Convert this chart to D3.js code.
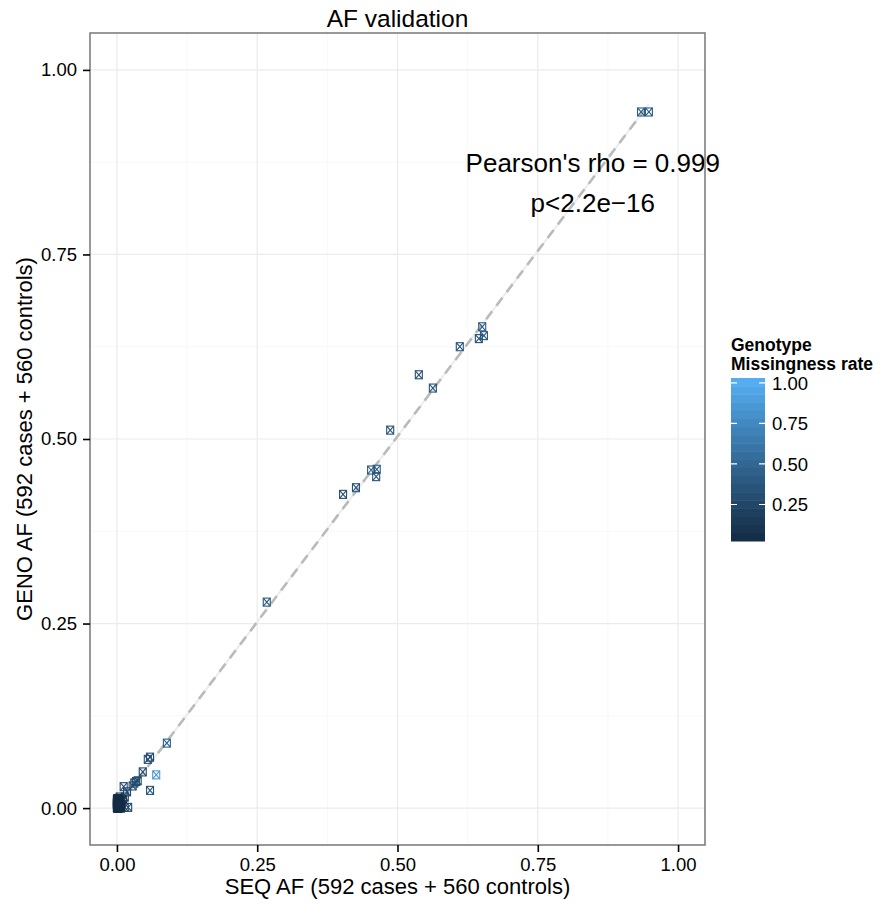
<!DOCTYPE html>
<html lang="en">
<head>
  <meta charset="UTF-8">
  <title>AF validation</title>
  <script src="https://d3js.org/d3.v7.min.js"></script>
  <style>
    body { margin: 0; background: #fff; }
    text { font-family: "Liberation Sans", Arial, sans-serif; fill: #000; }
    .grid-major { stroke: #ebebeb; stroke-width: 1.2; }
    .grid-minor { stroke: #f8f8f8; stroke-width: 1; }
  </style>
</head>
<body>
  <svg id="chart" width="887" height="905"></svg>
  <script>
    // SEQ allele frequency, GENO allele frequency, genotype missingness rate
    const seqAF = [
      0.934, 0.948, 0.611, 0.651, 0.645, 0.654, 0.538, 0.563, 0.487, 0.403,
      0.426, 0.453, 0.463, 0.462, 0.267, 0.089, 0.059, 0.055, 0.070, 0.059,
      0.046, 0.037, 0.031, 0.034, 0.028, 0.012, 0.018, 0.014, 0.020, 0.014,
      0.005, 0.011, 0.008, 0.004, 0.006, 0.002, 0.000, 0.001, 0.003, 0.005,
      0.007, 0.002, 0.000, 0.004, 0.001, 0.003, 0.006, 0.000, 0.002, 0.008,
      0.000, 0.001, 0.002, 0.003, 0.004, 0.005, 0.006, 0.007, 0.001, 0.002,
      0.003, 0.004, 0.005, 0.000, 0.001, 0.002, 0.003, 0.006, 0.000, 0.004,
      0.001, 0.002, 0.003, 0.005, 0.000, 0.001, 0.002, 0.004, 0.000, 0.003
    ];
    const genoAF = [
      0.943, 0.943, 0.625, 0.652, 0.636, 0.640, 0.587, 0.569, 0.512, 0.425,
      0.434, 0.458, 0.459, 0.449, 0.279, 0.088, 0.069, 0.066, 0.045, 0.024,
      0.049, 0.037, 0.034, 0.036, 0.030, 0.029, 0.022, 0.015, 0.001, 0.001,
      0.015, 0.012, 0.009, 0.006, 0.011, 0.004, 0.000, 0.002, 0.005, 0.008,
      0.003, 0.000, 0.006, 0.001, 0.009, 0.002, 0.007, 0.004, 0.010, 0.005,
      0.001, 0.000, 0.002, 0.001, 0.003, 0.002, 0.001, 0.000, 0.004, 0.006,
      0.004, 0.005, 0.006, 0.008, 0.007, 0.009, 0.008, 0.003, 0.012, 0.010,
      0.010, 0.012, 0.011, 0.004, 0.006, 0.013, 0.007, 0.002, 0.010, 0.000
    ];
    const missRate = [
      0.42, 0.40, 0.35, 0.40, 0.35, 0.38, 0.33, 0.36, 0.35, 0.32,
      0.35, 0.38, 0.42, 0.36, 0.38, 0.45, 0.30, 0.35, 0.85, 0.35,
      0.25, 0.30, 0.28, 0.32, 0.30, 0.30, 0.28, 0.22, 0.30, 0.28,
      0.15, 0.12, 0.10, 0.08, 0.10, 0.06, 0.05, 0.07, 0.09, 0.06,
      0.08, 0.05, 0.10, 0.06, 0.07, 0.05, 0.09, 0.06, 0.08, 0.07,
      0.04, 0.05, 0.04, 0.06, 0.05, 0.04, 0.05, 0.06, 0.04, 0.05,
      0.04, 0.06, 0.05, 0.04, 0.05, 0.04, 0.06, 0.05, 0.04, 0.05,
      0.04, 0.05, 0.06, 0.04, 0.05, 0.04, 0.05, 0.06, 0.04, 0.05
    ];

    const xTicks = [0, 0.25, 0.5, 0.75, 1];
    const yTicks = [0, 0.25, 0.5, 0.75, 1];
    const legendTicks = [0.25, 0.5, 0.75, 1];
    const colourLimits = [0.025, 1.03];

    // fitted line (SEQ -> GENO)
    const fitIntercept = 0.001;
    const fitSlope = 1.005;
    const fitRange = [0, 0.948];

    const annoLines = ["Pearson's rho = 0.999", "p<2.2e\u221216"];

    const svg = d3.select("#chart");
    const panel = { left: 90, right: 705, top: 33, bottom: 845 };

    const x = d3.scaleLinear().domain([-0.048, 1.048]).range([panel.left, panel.right]);
    const y = d3.scaleLinear().domain([-0.050, 1.050]).range([panel.bottom, panel.top]);
    const colour = d3.scaleLinear().domain(colourLimits)
      .range(["#132B43", "#56B1F7"]).interpolate(d3.interpolateLab);

    // grid
    const minorX = xTicks.slice(0, -1).map(d => d + 0.125);
    const minorY = yTicks.slice(0, -1).map(d => d + 0.125);
    const grid = svg.append("g");
    grid.selectAll(".mx").data(minorX).join("line").attr("class", "grid-minor")
      .attr("x1", d => x(d)).attr("x2", d => x(d)).attr("y1", panel.top).attr("y2", panel.bottom);
    grid.selectAll(".my").data(minorY).join("line").attr("class", "grid-minor")
      .attr("y1", d => y(d)).attr("y2", d => y(d)).attr("x1", panel.left).attr("x2", panel.right);
    grid.selectAll(".gx").data(xTicks).join("line").attr("class", "grid-major")
      .attr("x1", d => x(d)).attr("x2", d => x(d)).attr("y1", panel.top).attr("y2", panel.bottom);
    grid.selectAll(".gy").data(yTicks).join("line").attr("class", "grid-major")
      .attr("y1", d => y(d)).attr("y2", d => y(d)).attr("x1", panel.left).attr("x2", panel.right);

    // fit lines
    const fit = fitRange.map(v => [v, fitIntercept + fitSlope * v]);
    const line = d3.line().x(d => x(d[0])).y(d => y(d[1]));
    svg.append("path").attr("d", line(fit))
      .attr("fill", "none").attr("stroke", "#ececec").attr("stroke-width", 2);
    svg.append("path").attr("d", line(fit))
      .attr("fill", "none").attr("stroke", "#bababa").attr("stroke-width", 2.6)
      .attr("stroke-dasharray", "10,7");

    // points (boxed cross)
    const pts = seqAF.map((d, i) => ({ sx: d, gy: genoAF[i], m: missRate[i] }))
      .sort((a, b) => b.m - a.m);
    const pg = svg.append("g").selectAll("g").data(pts).join("g")
      .attr("transform", d => `translate(${x(d.sx)},${y(d.gy)})`)
      .attr("stroke", d => colour(d.m)).attr("stroke-width", 1.1).attr("fill", "none");
    const hw = 3.5, hh = 4;
    pg.append("rect").attr("x", -hw).attr("y", -hh).attr("width", 2 * hw).attr("height", 2 * hh);
    pg.append("path").attr("d", `M${-hw},${-hh}L${hw},${hh}M${hw},${-hh}L${-hw},${hh}`);

    // annotation
    svg.append("g").selectAll("text").data(annoLines).join("text")
      .attr("x", x(0.848)).attr("y", (d, i) => y(0.874) + i * 40 + 9)
      .attr("text-anchor", "middle").style("font-size", "26px").text(d => d);

    // panel border
    svg.append("rect").attr("x", panel.left).attr("y", panel.top)
      .attr("width", panel.right - panel.left).attr("height", panel.bottom - panel.top)
      .attr("fill", "none").attr("stroke", "#7f7f7f").attr("stroke-width", 1.6);

    // axes
    const fmt = d3.format(".2f");
    const xAxis = svg.append("g").attr("transform", `translate(0,${panel.bottom})`)
      .call(d3.axisBottom(x).tickValues(xTicks).tickFormat(fmt).tickSize(7).tickPadding(6));
    const yAxis = svg.append("g").attr("transform", `translate(${panel.left},0)`)
      .call(d3.axisLeft(y).tickValues(yTicks).tickFormat(fmt).tickSize(7).tickPadding(6));
    [xAxis, yAxis].forEach(a => {
      a.select(".domain").remove();
      a.selectAll(".tick line").attr("stroke", "#000").attr("stroke-width", 1.6);
      a.selectAll(".tick text").style("font-size", "18.5px").attr("fill", "#000");
    });

    // titles
    svg.append("text").attr("x", (panel.left + panel.right) / 2).attr("y", 27)
      .attr("text-anchor", "middle").style("font-size", "24.5px").text("AF validation");
    svg.append("text").attr("x", (panel.left + panel.right) / 2).attr("y", 894)
      .attr("text-anchor", "middle").style("font-size", "22px")
      .text("SEQ AF (592 cases + 560 controls)");
    svg.append("text")
      .attr("transform", `translate(32,${(panel.top + panel.bottom) / 2}) rotate(-90)`)
      .attr("text-anchor", "middle").style("font-size", "22px")
      .text("GENO AF (592 cases + 560 controls)");

    // colour bar legend
    const bar = { x: 731, w: 34, top: 378, bottom: 541 };
    const ly = d3.scaleLinear().domain(colourLimits).range([bar.bottom, bar.top]);
    const nbin = 20;
    const bins = d3.range(nbin).map(i => colourLimits[0] + (colourLimits[1] - colourLimits[0]) * i / nbin);
    const step = (colourLimits[1] - colourLimits[0]) / nbin;
    const lg = svg.append("g");
    lg.selectAll("rect").data(bins).join("rect")
      .attr("x", bar.x).attr("width", bar.w)
      .attr("y", d => ly(d + step)).attr("height", d => ly(d) - ly(d + step) + 0.5)
      .attr("fill", d => colour(d + step / 2));
    lg.selectAll(".tl").data(legendTicks).join("path")
      .attr("d", d => `M${bar.x},${ly(d)}h6M${bar.x + bar.w - 6},${ly(d)}h6`)
      .attr("stroke", "#fff").attr("stroke-width", 1.2);
    lg.selectAll(".lt").data(legendTicks).join("text")
      .attr("x", bar.x + bar.w + 7).attr("y", d => ly(d)).attr("dy", "0.36em")
      .style("font-size", "18.5px").text(d => fmt(d));
    lg.selectAll(".ttl").data(["Genotype", "Missingness rate"]).join("text")
      .attr("x", bar.x).attr("y", (d, i) => 351 + i * 19)
      .style("font-size", "17.5px").style("font-weight", "bold").text(d => d);
  </script>
</body>
</html>
